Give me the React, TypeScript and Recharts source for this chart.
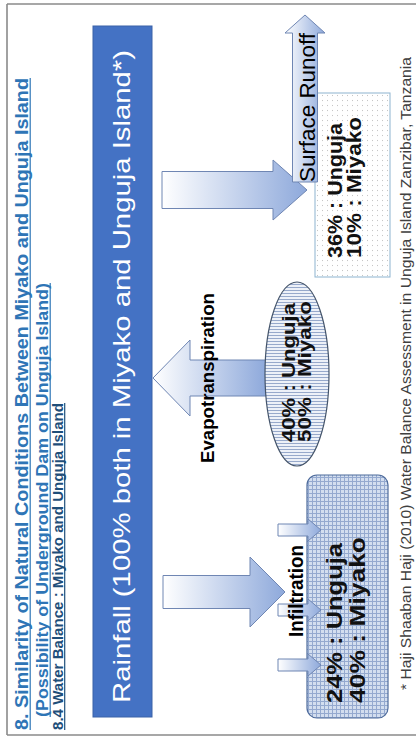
import React from 'react'
import { ComposedChart, XAxis, YAxis, ReferenceArea, ReferenceLine, Scatter } from 'recharts'

// the slide is drawn landscape (738 x 416) and turned a quarter to fit the portrait page
const W = 738
const H = 416

const flows = ['Infiltration', 'Evapotranspiration', 'Surface Runoff']
const ungujaPct = [24, 40, 36]
const miyakoPct = [40, 50, 10]
const rainfallPct = 100

const titleLines = [
  '8. Similarity of Natural Conditions Between Miyako and Unguja Island',
  '(Possibility of Underground Dam on Unguja Island)',
  '8.4 Water Balance : Miyako and Unguja Island',
]
const footnote = '* Haji Shaaban Haji (2010) Water Balance Assessment in Unguja Island Zanzibar, Tanzania'

// layout (landscape coords)
const titleLayout = [
  { x: 8, y: 28, size: 18, len: 652, color: '#2E75B6' },
  { x: 21, y: 48, size: 17, len: 434, color: '#2E75B6' },
  { x: 8, y: 62.5, size: 15, len: 327, color: '#1F4E79' },
]
const nameLayout = [
  { x: 101, y: 303, size: 20, len: 92, weight: 700 },
  { x: 275, y: 214, size: 19, len: 170, weight: 700 },
  { x: 556, y: 315, size: 22, len: 149, weight: 400 },
]
const valueLayout = [
  { x: 35, y: 342, gap: 23, size: 22, len: [160, 166] },
  { x: 296, y: 295, gap: 16, size: 19, len: [139, 141] },
  { x: 480, y: 342, gap: 19, size: 20, len: [135, 141] },
]
const bigArrows = [
  { x1: 111, x2: 181, y1: 163, y2: 285, dir: 'down', shaft: 33, head: 35 },
  { x1: 322, x2: 398, y1: 153, y2: 266, dir: 'up', shaft: 36, head: 37 },
  { x1: 518, x2: 578, y1: 162, y2: 307, dir: 'down', shaft: 37, head: 34 },
]
const smallArrowCenters = [73, 128, 208]

const FONT = '"Liberation Sans", Arial, sans-serif'

const nameRows = flows.map((f, i) => ({ name: f, lx: nameLayout[i].x, ly: nameLayout[i].y, i }))
const valueRows = flows.map((f, i) => ({
  name: f,
  unguja: ungujaPct[i],
  miyako: miyakoPct[i],
  lx: valueLayout[i].x,
  ly: valueLayout[i].y,
  i,
}))

function arrowPath(x: number, y: number, w: number, h: number, dir: string, shaft: number, head: number) {
  const s = shaft / 2
  if (dir === 'down') {
    const cx = x + w / 2
    const hb = y + h - head
    return `M${cx - s},${y} L${cx + s},${y} L${cx + s},${hb} L${x + w},${hb} L${cx},${y + h} L${x},${hb} L${cx - s},${hb} Z`
  }
  if (dir === 'up') {
    const cx = x + w / 2
    const hb = y + head
    return `M${cx - s},${y + h} L${cx + s},${y + h} L${cx + s},${hb} L${x + w},${hb} L${cx},${y} L${x},${hb} L${cx - s},${hb} Z`
  }
  const cy = y + h / 2
  const hb = x + w - head
  return `M${x},${cy - s} L${hb},${cy - s} L${hb},${y} L${x + w},${cy} L${hb},${y + h} L${hb},${cy + s} L${x},${cy + s} Z`
}

const arrowShape = (dir: string, shaft: number, head: number) => (p: any) => (
  <path
    d={arrowPath(p.x, p.y, p.width, p.height, dir, shaft, head)}
    fill="url(#gradV)"
    stroke="#6F86B3"
    strokeWidth={1}
  />
)

function RainBar(p: any) {
  return (
    <g>
      <defs>
        <linearGradient id="gradV" x1="0" y1="0" x2="0" y2="1">
          <stop offset="0" stopColor="#FFFFFF" />
          <stop offset="1" stopColor="#8EA9DB" />
        </linearGradient>
        <pattern id="grid" width="4" height="4" patternUnits="userSpaceOnUse">
          <rect width="4" height="4" fill="#D3DEEF" />
          <path d="M0,0.5 H4 M0.5,0 V4" stroke="#94A9CF" strokeWidth="1" />
        </pattern>
        <pattern id="stripes" width="3" height="3" patternUnits="userSpaceOnUse">
          <rect width="3" height="3" fill="#EDF1F8" />
          <path d="M0.5,0 V3" stroke="#97A9CB" strokeWidth="1" />
        </pattern>
        <pattern id="dots" width="5" height="5" patternUnits="userSpaceOnUse">
          <rect width="5" height="5" fill="#FFFFFF" />
          <circle cx="2.5" cy="2.5" r="0.6" fill="#BDBDBD" />
        </pattern>
      </defs>
      <rect x={p.x} y={p.y} width={p.width} height={p.height} fill="#4472C4" stroke="#3A62A8" strokeWidth={1} />
      <text
        x={35}
        y={130}
        fontSize={24}
        fill="#FFFFFF"
        fontFamily={FONT}
        textLength={653}
        lengthAdjust="spacingAndGlyphs"
      >
        {`Rainfall (${rainfallPct}% both in Miyako and Unguja Island*)`}
      </text>
    </g>
  )
}

function NameLabel(p: any) {
  const l = nameLayout[p.payload.i]
  return (
    <text
      x={p.cx}
      y={p.cy}
      fontSize={l.size}
      fontWeight={l.weight}
      fill="#000"
      fontFamily={FONT}
      textLength={l.len}
      lengthAdjust="spacingAndGlyphs"
    >
      {p.payload.name}
    </text>
  )
}

function ValueLabel(p: any) {
  const l = valueLayout[p.payload.i]
  return (
    <g fontFamily={FONT} fontWeight={700} fontSize={l.size} fill="#111">
      <text x={p.cx} y={p.cy} textLength={l.len[0]} lengthAdjust="spacingAndGlyphs">
        {`${p.payload.unguja}% : Unguja`}
      </text>
      <text x={p.cx} y={p.cy + l.gap} textLength={l.len[1]} lengthAdjust="spacingAndGlyphs">
        {`${p.payload.miyako}% : Miyako`}
      </text>
    </g>
  )
}

function Titles() {
  return (
    <g fontFamily={FONT} fontWeight={700}>
      {titleLines.map((t, i) => {
        const l = titleLayout[i]
        return (
          <g key={i}>
            <text x={l.x} y={l.y} fontSize={l.size} fill={l.color} textLength={l.len} lengthAdjust="spacingAndGlyphs">
              {t}
            </text>
            <line x1={l.x} x2={l.x + l.len} y1={l.y + 2.2} y2={l.y + 2.2} stroke={l.color} strokeWidth={1.2} />
          </g>
        )
      })}
      <text
        x={48}
        y={411}
        fontSize={14}
        fontWeight={400}
        fill="#404040"
        textLength={633}
        lengthAdjust="spacingAndGlyphs"
      >
        {footnote}
      </text>
    </g>
  )
}

export default function App() {
  return (
    <div style={{ position: 'absolute', left: 0, top: 0, width: H, height: W, background: '#fff', overflow: 'hidden' }}>
      <div
        style={{
          position: 'absolute',
          left: 0,
          top: 0,
          width: W,
          height: H,
          transformOrigin: '0 0',
          transform: `translate(0px, ${W}px) rotate(-90deg)`,
        }}
      >
        <ComposedChart width={W} height={H} margin={{ top: 0, right: 0, bottom: 0, left: 0 }}>
          <XAxis type="number" dataKey="lx" domain={[0, W]} allowDataOverflow hide />
          <YAxis type="number" dataKey="ly" domain={[0, H]} allowDataOverflow reversed hide />

          <ReferenceLine segment={[{ x: 3, y: 7 }, { x: 734, y: 7 }]} stroke="#8A8A8A" strokeWidth={1.6} ifOverflow="visible" />
          <ReferenceLine segment={[{ x: 3, y: 7 }, { x: 3, y: H }]} stroke="#8A8A8A" strokeWidth={1.6} ifOverflow="visible" />
          <ReferenceLine segment={[{ x: 734, y: 7 }, { x: 734, y: H }]} stroke="#8A8A8A" strokeWidth={1.6} ifOverflow="visible" />

          <ReferenceArea x1={21} x2={712} y1={93} y2={152} shape={RainBar} ifOverflow="visible" />

          {bigArrows.map((a, i) => (
            <ReferenceArea
              key={'a' + i}
              x1={a.x1}
              x2={a.x2}
              y1={a.y1}
              y2={a.y2}
              ifOverflow="visible"
              shape={arrowShape(a.dir, a.shaft, a.head)}
            />
          ))}

          <ReferenceArea
            x1={272}
            x2={456}
            y1={265}
            y2={329}
            ifOverflow="visible"
            shape={(p: any) => (
              <ellipse
                cx={p.x + p.width / 2}
                cy={p.y + p.height / 2}
                rx={p.width / 2}
                ry={p.height / 2}
                fill="url(#stripes)"
                stroke="#44546A"
                strokeWidth={1.2}
              />
            )}
          />

          <ReferenceArea
            x1={20}
            x2={263}
            y1={307}
            y2={388}
            ifOverflow="visible"
            shape={(p: any) => (
              <rect x={p.x} y={p.y} width={p.width} height={p.height} rx={10} fill="url(#grid)" stroke="#4F6C9C" strokeWidth={1.2} />
            )}
          />

          <ReferenceArea
            x1={461}
            x2={645}
            y1={315}
            y2={390}
            ifOverflow="visible"
            shape={(p: any) => (
              <rect x={p.x} y={p.y} width={p.width} height={p.height} fill="url(#dots)" stroke="#8DB4D0" strokeWidth={1} />
            )}
          />

          <ReferenceArea
            x1={556}
            x2={723}
            y1={285}
            y2={325}
            ifOverflow="visible"
            shape={arrowShape('right', 25, 18)}
          />

          {smallArrowCenters.map((c, i) => (
            <ReferenceArea
              key={'s' + i}
              x1={c - 11}
              x2={c + 11}
              y1={278}
              y2={321}
              ifOverflow="visible"
              shape={arrowShape('down', 12, 13)}
            />
          ))}

          <Scatter data={nameRows} shape={NameLabel} isAnimationActive={false} />
          <Scatter data={valueRows} shape={ValueLabel} isAnimationActive={false} />

          <ReferenceArea x1={0} x2={1} y1={0} y2={1} ifOverflow="visible" shape={() => <Titles />} />
        </ComposedChart>
      </div>
    </div>
  )
}
